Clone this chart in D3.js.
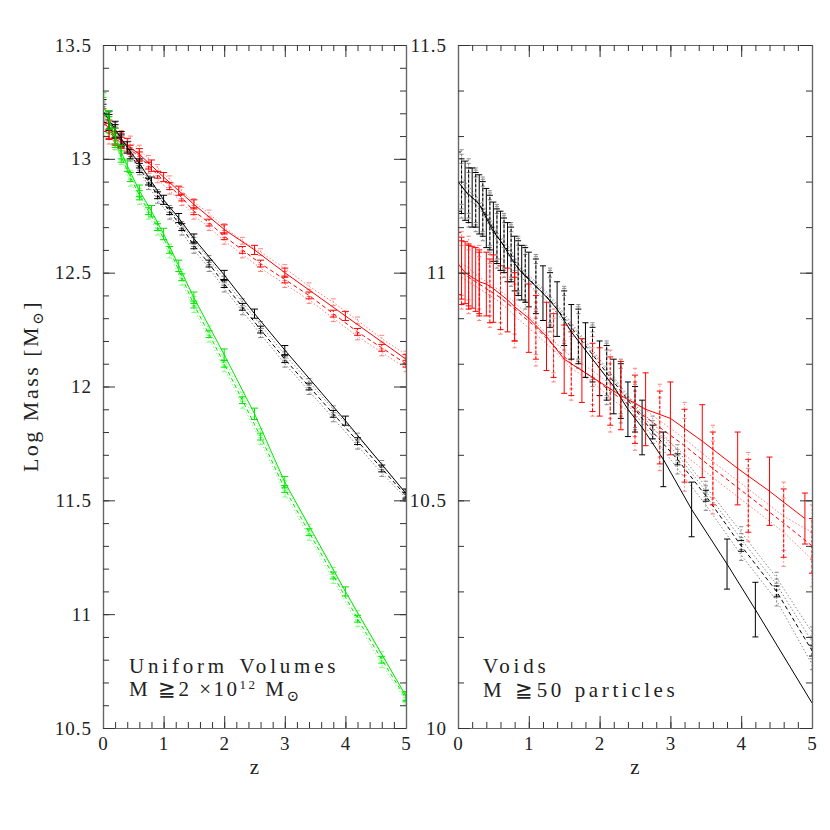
<!DOCTYPE html>
<html>
<head>
<meta charset="utf-8">
<script src="https://cdn.jsdelivr.net/npm/d3@7"></script>
<style>
  body { margin: 0; background: #fff; }
  text { font-family: "Liberation Serif", "DejaVu Serif", serif; fill: #222; }
</style>
</head>
<body>
<svg id="chart" width="830" height="830"></svg>
<script>
// ---- tick labels ----
var zTicks = [0, 1, 2, 3, 4, 5];
var leftYTicks = [10.5, 11, 11.5, 12, 12.5, 13, 13.5];
var rightYTicks = [10, 10.5, 11, 11.5];

// ---- left panel: uniform volumes ----
var zL = [0, 0.1, 0.2, 0.3, 0.4, 0.6, 0.8, 1.0, 1.25, 1.5, 2, 2.5, 3, 4, 5];
var redL = [13.17, 13.13, 13.10, 13.08, 13.06, 13.02, 12.97, 12.92, 12.86, 12.80, 12.69, 12.60, 12.50, 12.31, 12.12];
var blackL = [13.21, 13.17, 13.13, 13.09, 13.05, 12.98, 12.90, 12.82, 12.74, 12.65, 12.49, 12.32, 12.16, 11.85, 11.53];
var greenL = [13.24, 13.17, 13.10, 13.03, 12.97, 12.86, 12.77, 12.67, 12.53, 12.39, 12.14, 11.88, 11.58, 11.10, 10.64];
var redErrL = [0.05, 0.04, 0.035, 0.03, 0.03, 0.025, 0.025, 0.02, 0.02, 0.02, 0.02, 0.02, 0.02, 0.02, 0.02];
var blackErrL = [0.05, 0.04, 0.035, 0.03, 0.025, 0.02, 0.02, 0.02, 0.02, 0.02, 0.02, 0.02, 0.02, 0.02, 0.02];
var greenErrL = [0.05, 0.04, 0.035, 0.03, 0.025, 0.025, 0.025, 0.025, 0.025, 0.025, 0.025, 0.025, 0.025, 0.02, 0.02];

var zLd = [0, 0.1, 0.2, 0.3, 0.45, 0.6, 0.75, 0.9, 1.1, 1.3, 1.5, 1.75, 2.0, 2.3, 2.6, 3.0, 3.4, 3.8, 4.2, 4.6, 5.0];
var errLd = [0.04, 0.035, 0.03, 0.025, 0.02, 0.02, 0.015, 0.015, 0.015, 0.015, 0.015, 0.015, 0.015, 0.015, 0.015, 0.015, 0.015, 0.015, 0.015, 0.015, 0.015];
var redDashL = [13.16, 13.12, 13.09, 13.07, 13.04, 13.01, 12.97, 12.93, 12.88, 12.83, 12.77, 12.72, 12.66, 12.60, 12.54, 12.47, 12.40, 12.32, 12.24, 12.17, 12.10];
var redDotAL = [13.19, 13.15, 13.12, 13.10, 13.08, 13.04, 13.00, 12.96, 12.91, 12.86, 12.81, 12.76, 12.70, 12.64, 12.59, 12.52, 12.44, 12.37, 12.29, 12.21, 12.14];
var redDotBL = [13.14, 13.10, 13.07, 13.05, 13.02, 12.99, 12.95, 12.91, 12.86, 12.81, 12.75, 12.70, 12.64, 12.58, 12.52, 12.45, 12.38, 12.30, 12.22, 12.15, 12.08];
var blackDashL = [13.20, 13.16, 13.12, 13.08, 13.02, 12.96, 12.90, 12.84, 12.77, 12.70, 12.62, 12.54, 12.45, 12.35, 12.25, 12.12, 12.00, 11.88, 11.76, 11.64, 11.52];
var blackDotAL = [13.21, 13.17, 13.13, 13.09, 13.03, 12.97, 12.91, 12.85, 12.78, 12.71, 12.64, 12.56, 12.47, 12.37, 12.27, 12.14, 12.02, 11.90, 11.78, 11.66, 11.53];
var blackDotBL = [13.19, 13.15, 13.11, 13.07, 13.01, 12.95, 12.88, 12.82, 12.75, 12.68, 12.60, 12.52, 12.43, 12.33, 12.23, 12.10, 11.98, 11.86, 11.74, 11.62, 11.51];
var greenDashL = [13.23, 13.15, 13.08, 13.01, 12.92, 12.84, 12.77, 12.70, 12.60, 12.48, 12.36, 12.23, 12.10, 11.94, 11.78, 11.55, 11.36, 11.17, 10.98, 10.80, 10.63];
var greenDotAL = [13.24, 13.16, 13.09, 13.02, 12.93, 12.85, 12.78, 12.71, 12.61, 12.50, 12.38, 12.25, 12.12, 11.96, 11.80, 11.57, 11.38, 11.19, 11.00, 10.82, 10.64];
var greenDotBL = [13.22, 13.14, 13.07, 13.00, 12.90, 12.82, 12.75, 12.68, 12.58, 12.46, 12.34, 12.21, 12.08, 11.92, 11.76, 11.53, 11.34, 11.15, 10.96, 10.78, 10.62];

// ---- right panel: voids ----
var zRB = [0, 0.1, 0.2, 0.3, 0.4, 0.5, 0.6, 0.7, 0.8, 0.9, 1.0, 1.2, 1.4, 1.6, 1.8, 2.0, 2.2, 2.4, 2.6, 2.9, 3.3, 3.8, 4.2, 5.0];
var blackR = [11.20, 11.18, 11.165, 11.15, 11.12, 11.09, 11.07, 11.045, 11.02, 11.00, 10.985, 10.955, 10.92, 10.87, 10.83, 10.79, 10.75, 10.70, 10.66, 10.59, 10.48, 10.36, 10.26, 10.055];
var blackErrR = [0.065, 0.065, 0.065, 0.065, 0.065, 0.065, 0.065, 0.065, 0.06, 0.06, 0.06, 0.06, 0.06, 0.06, 0.06, 0.06, 0.06, 0.06, 0.06, 0.06, 0.06, 0.055, 0.06, 0];
var zRB2 = [0.05, 0.15, 0.25, 0.35, 0.45, 0.55, 0.65, 0.75, 0.85, 0.95, 1.1, 1.3, 1.5, 1.7, 1.9, 2.1, 2.3, 2.5, 2.75, 3.1, 3.5, 4.0, 4.5, 5.0];
var blackDashR = [11.19, 11.17, 11.16, 11.14, 11.11, 11.08, 11.06, 11.04, 11.01, 10.995, 10.97, 10.94, 10.90, 10.86, 10.82, 10.78, 10.74, 10.70, 10.65, 10.59, 10.51, 10.40, 10.30, 10.17];
var blackDotAR = [11.21, 11.19, 11.17, 11.15, 11.12, 11.09, 11.07, 11.05, 11.02, 11.00, 10.98, 10.95, 10.91, 10.87, 10.83, 10.79, 10.75, 10.71, 10.67, 10.61, 10.53, 10.43, 10.33, 10.21];
var blackDotBR = [11.18, 11.16, 11.15, 11.13, 11.10, 11.07, 11.05, 11.03, 11.00, 10.98, 10.96, 10.93, 10.89, 10.85, 10.81, 10.77, 10.73, 10.69, 10.64, 10.57, 10.49, 10.38, 10.28, 10.14];
var blackDotCR = [11.20, 11.18, 11.165, 11.145, 11.115, 11.085, 11.065, 11.045, 11.015, 10.995, 10.975, 10.945, 10.905, 10.865, 10.825, 10.785, 10.745, 10.705, 10.66, 10.60, 10.52, 10.415, 10.315, 10.19];
var blackErrR2 = [0.06, 0.06, 0.06, 0.06, 0.06, 0.06, 0.06, 0.06, 0.06, 0.06, 0.06, 0.06, 0.06, 0.06, 0.06, 0.06, 0.06, 0.05, 0.015, 0.012, 0.012, 0.012, 0.012, 0.012];

var zRR = [0, 0.05, 0.1, 0.15, 0.2, 0.25, 0.3, 0.4, 0.5, 0.7, 0.8, 1.0, 1.25, 1.5, 1.75, 2.0, 2.3, 2.65, 3.0, 3.45, 3.95, 4.4, 4.9];
var redR = [11.02, 11.01, 11.00, 10.995, 10.99, 10.985, 10.98, 10.975, 10.965, 10.94, 10.925, 10.90, 10.86, 10.81, 10.785, 10.76, 10.73, 10.70, 10.68, 10.63, 10.57, 10.52, 10.46];
var redErrR = [0.068, 0.068, 0.068, 0.068, 0.068, 0.07, 0.07, 0.07, 0.074, 0.07, 0.075, 0.075, 0.075, 0.075, 0.07, 0.075, 0.075, 0.08, 0.08, 0.08, 0.08, 0.075, 0.056];
var zRR2 = [0.05, 0.15, 0.3, 0.45, 0.6, 0.8, 1.1, 1.35, 1.6, 1.9, 2.15, 2.5, 2.85, 3.2, 3.6, 4.1, 4.6, 5.0];
var redDashR = [11.00, 10.99, 10.975, 10.96, 10.945, 10.92, 10.88, 10.84, 10.80, 10.77, 10.74, 10.70, 10.66, 10.62, 10.57, 10.51, 10.45, 10.40];
var redDotAR = [11.02, 11.01, 10.99, 10.975, 10.96, 10.935, 10.89, 10.85, 10.815, 10.785, 10.755, 10.715, 10.675, 10.635, 10.585, 10.525, 10.465, 10.43];
var redDotBR = [10.99, 10.98, 10.965, 10.95, 10.935, 10.905, 10.865, 10.83, 10.79, 10.76, 10.725, 10.685, 10.645, 10.60, 10.55, 10.49, 10.43, 10.37];
var redErrR2 = [0.07, 0.07, 0.07, 0.07, 0.07, 0.07, 0.07, 0.07, 0.07, 0.075, 0.075, 0.075, 0.08, 0.08, 0.08, 0.08, 0.075, 0.06];

// layout
var plotTop = 45, plotBottom = 728;
var svg = d3.select("#chart");

// colours and line styles
var col = { red: "#ff0000", black: "#000000", green: "#00e600" };
var light = { red: "#ff8080", black: "#8a8a8a", green: "#80ff80" };

function build(z, v, e, color, kind) {
  return { pts: z.map(function (d, i) { return { z: d, v: v[i], e: e[i] }; }), color: color, kind: kind };
}

var leftSeries = [
  build(zLd, redDotAL, errLd, "red", "dot"), build(zLd, redDotBL, errLd, "red", "dot"),
  build(zLd, blackDotAL, errLd, "black", "dot"), build(zLd, blackDotBL, errLd, "black", "dot"),
  build(zLd, greenDotAL, errLd, "green", "dot"), build(zLd, greenDotBL, errLd, "green", "dot"),
  build(zLd, redDashL, errLd, "red", "dash"), build(zLd, blackDashL, errLd, "black", "dash"),
  build(zLd, greenDashL, errLd, "green", "dash"),
  build(zL, redL, redErrL, "red", "solid"), build(zL, blackL, blackErrL, "black", "solid"),
  build(zL, greenL, greenErrL, "green", "solid")
];

var rightSeries = [
  build(zRB2, blackDotAR, blackErrR2, "black", "dot"), build(zRB2, blackDotBR, blackErrR2, "black", "dot"),
  build(zRB2, blackDotCR, blackErrR2, "black", "dot"),
  build(zRR2, redDotAR, redErrR2, "red", "dot"), build(zRR2, redDotBR, redErrR2, "red", "dot"),
  build(zRB2, blackDashR, blackErrR2, "black", "dash"), build(zRR2, redDashR, redErrR2, "red", "dash"),
  build(zRB, blackR, blackErrR, "black", "solid"), build(zRR, redR, redErrR, "red", "solid")
];

function drawPanel(x0, x1, yDomain, yTicks, series, cap, id) {
  var x = d3.scaleLinear().domain([0, 5]).range([x0, x1]);
  var y = d3.scaleLinear().domain(yDomain).range([plotBottom, plotTop]);
  var g = svg.append("g");

  svg.append("clipPath").attr("id", id)
    .append("rect").attr("x", x0).attr("y", plotTop).attr("width", x1 - x0).attr("height", plotBottom - plotTop);

  var plot = g.append("g").attr("clip-path", "url(#" + id + ")");
  var line = d3.line().x(function (d) { return x(d.z); }).y(function (d) { return y(d.v); });

  series.forEach(function (s) {
    var stroke = s.kind === "dot" ? light[s.color] : col[s.color];
    var dash = s.kind === "dash" ? "4,3" : s.kind === "dot" ? "1.5,2" : null;
    var sg = plot.append("g").attr("stroke", stroke).attr("fill", "none").attr("stroke-width", 1);
    sg.append("path").datum(s.pts).attr("d", line).attr("stroke-dasharray", dash);
    var bars = sg.selectAll(".bar").data(s.pts.filter(function (d) { return d.e > 0; })).enter().append("g");
    bars.append("line")
      .attr("x1", function (d) { return x(d.z); }).attr("x2", function (d) { return x(d.z); })
      .attr("y1", function (d) { return y(d.v - d.e); }).attr("y2", function (d) { return y(d.v + d.e); })
      .attr("stroke-dasharray", s.kind === "solid" ? null : (s.kind === "dash" ? "3,2" : "1.5,2"));
    var c = s.kind === "dot" ? cap * 0.7 : cap;
    [-1, 1].forEach(function (sgn) {
      bars.append("line")
        .attr("x1", function (d) { return x(d.z) - c; }).attr("x2", function (d) { return x(d.z) + c; })
        .attr("y1", function (d) { return y(d.v + sgn * d.e); }).attr("y2", function (d) { return y(d.v + sgn * d.e); });
    });
  });

  var zMinor = d3.range(0, 5.001, 0.2);
  var yMinor = d3.range(Math.round(yDomain[0] * 10), Math.round(yDomain[1] * 10) + 1).map(function (d) { return d / 10; });

  function styleAxis(a) {
    a.selectAll(".domain").attr("stroke", "#666").attr("stroke-width", 1.2);
    a.selectAll(".tick line").attr("stroke", "#333");
    a.selectAll("text").attr("font-family", "Liberation Serif, serif").attr("font-size", 19)
      .attr("letter-spacing", 1).attr("fill", "#222");
  }

  // bottom
  g.append("g").attr("transform", "translate(0," + plotBottom + ")")
    .call(d3.axisBottom(x).tickValues(zTicks).tickSize(-12).tickSizeOuter(0).tickPadding(9).tickFormat(d3.format("d")))
    .call(styleAxis);
  g.append("g").attr("transform", "translate(0," + plotBottom + ")")
    .call(d3.axisBottom(x).tickValues(zMinor).tickSize(-6).tickSizeOuter(0).tickFormat("")).call(styleAxis);
  // top
  g.append("g").attr("transform", "translate(0," + plotTop + ")")
    .call(d3.axisTop(x).tickValues(zTicks).tickSize(-12).tickSizeOuter(0).tickFormat("")).call(styleAxis);
  g.append("g").attr("transform", "translate(0," + plotTop + ")")
    .call(d3.axisTop(x).tickValues(zMinor).tickSize(-6).tickSizeOuter(0).tickFormat("")).call(styleAxis);
  // left
  g.append("g").attr("transform", "translate(" + x0 + ",0)")
    .call(d3.axisLeft(y).tickValues(yTicks).tickSize(-12).tickSizeOuter(0).tickPadding(11).tickFormat(function (d) { return String(d); }))
    .call(styleAxis);
  g.append("g").attr("transform", "translate(" + x0 + ",0)")
    .call(d3.axisLeft(y).tickValues(yMinor).tickSize(-6).tickSizeOuter(0).tickFormat("")).call(styleAxis);
  // right
  g.append("g").attr("transform", "translate(" + x1 + ",0)")
    .call(d3.axisRight(y).tickValues(yTicks).tickSize(-12).tickSizeOuter(0).tickFormat("")).call(styleAxis);
  g.append("g").attr("transform", "translate(" + x1 + ",0)")
    .call(d3.axisRight(y).tickValues(yMinor).tickSize(-6).tickSizeOuter(0).tickFormat("")).call(styleAxis);

  // z label
  g.append("text").attr("x", (x0 + x1) / 2).attr("y", 774).attr("text-anchor", "middle")
    .attr("font-size", 21).text("z");
  return g;
}

drawPanel(103, 406, [10.5, 13.5], leftYTicks, leftSeries, 3.5, "clipL");
drawPanel(458, 812, [10, 11.5], rightYTicks, rightSeries, 3, "clipR");

// y label
var yl = svg.append("text").attr("transform", "translate(38,386) rotate(-90)")
  .attr("text-anchor", "middle").attr("font-size", 22).attr("letter-spacing", 2.5);
yl.append("tspan").text("Log Mass [M");
yl.append("tspan").attr("font-size", 15).attr("dy", 5).text("\u2299");
yl.append("tspan").attr("dy", -5).text("]");

// annotations
function note(x, y, ls, ws, parts) {
  var t = svg.append("text").attr("x", x).attr("y", y).attr("font-size", 21)
    .attr("letter-spacing", ls).attr("word-spacing", ws);
  parts.forEach(function (p) {
    t.append("tspan").attr("font-size", p.size || 21).attr("dy", p.dy || 0).text(p.t);
  });
}
note(129, 673, 3.8, 3, [{ t: "Uniform Volumes" }]);
note(129, 696, 2.5, 0, [{ t: "M \u22672 \u00d710" }, { t: "12", size: 13, dy: -7 }, { t: " M", dy: 7 }, { t: "\u2299", size: 15, dy: 5 }]);
note(483, 673, 3.8, 1, [{ t: "Voids" }]);
note(483, 697, 3.6, 1, [{ t: "M \u226750 particles" }]);
</script>
</body>
</html>
